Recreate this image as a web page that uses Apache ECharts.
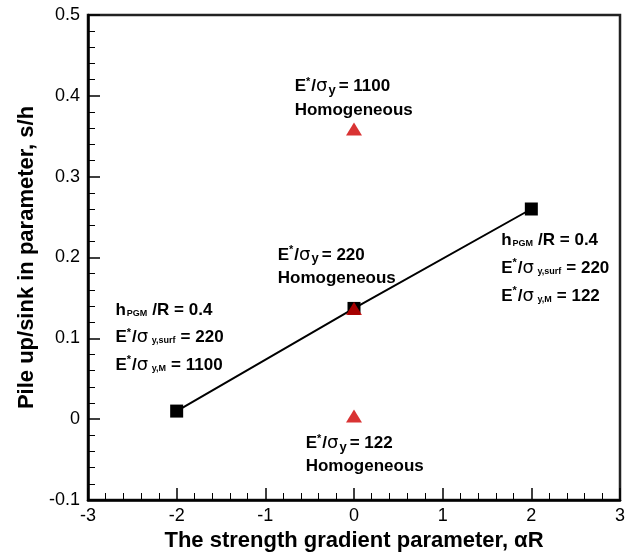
<!DOCTYPE html>
<html>
<head>
<meta charset="utf-8">
<script src="https://cdn.jsdelivr.net/npm/echarts@6/dist/echarts.min.js"></script>
<style>
  html, body { margin: 0; padding: 0; background: #fff; }
  #chart { width: 635px; height: 552px; }
</style>
</head>
<body>
<div id="chart"></div>
<script>
// Graded specimens: pile-up/sink-in vs strength gradient parameter
const gradedAlphaR = [-2, 0, 2];
const gradedSH = [0.01, 0.137, 0.26];

// Homogeneous reference cases (all at alphaR = 0)
const homogAlphaR = [0, 0, 0];
const homogSH = [0.359, 0.137, 0.004];

const xTicks = [-3, -2, -1, 0, 1, 2, 3];
const yTicks = [-0.1, 0, 0.1, 0.2, 0.3, 0.4, 0.5];

const FONT = '"Liberation Sans", Arial, Helvetica, sans-serif';

const chart = echarts.init(document.getElementById('chart'), null, { renderer: 'canvas' });

const richStyles = {
  b: { fontFamily: FONT, fontWeight: 'bold', fontSize: 17, color: '#000' },
  sup: { fontFamily: FONT, fontWeight: 'bold', fontSize: 11, color: '#000', padding: [0, 1, 9, 0] },
  sg: { fontFamily: '"DejaVu Sans", ' + FONT, fontSize: 18, color: '#000' },
  sub: { fontFamily: FONT, fontWeight: 'bold', fontSize: 13, color: '#000', padding: [8, 3, 0, 1] },
  subs: { fontFamily: FONT, fontWeight: 'bold', fontSize: 9, color: '#000', padding: [7, 5, 0, 1] }
};

// Annotation blocks: text lines, anchored in data space (alphaR, s/h)
const notes = [
  { at: [-0.669, 0.4115], gap: 24, lines: ['{b|E}{sup|*}{b|/}{sg|σ}{sub|y}{b|= 1100}', '{b|Homogeneous}'] },
  { at: [-0.86, 0.2032], gap: 23, lines: ['{b|E}{sup|*}{b|/}{sg|σ}{sub|y}{b|= 220}', '{b|Homogeneous}'] },
  { at: [-0.545, -0.0295], gap: 23, lines: ['{b|E}{sup|*}{b|/}{sg|σ}{sub|y}{b|= 122}', '{b|Homogeneous}'] },
  { at: [-2.69, 0.1352], gap: 27.5, lines: ['{b|h}{subs|PGM}{b|/R = 0.4}', '{b|E}{sup|*}{b|/}{sg|σ}{subs| y,surf}{b|= 220}', '{b|E}{sup|*}{b|/}{sg|σ}{subs| y,M}{b|= 1100}'] },
  { at: [1.66, 0.2218], gap: 28, lines: ['{b|h}{subs|PGM}{b|/R = 0.4}', '{b|E}{sup|*}{b|/}{sg|σ}{subs| y,surf}{b|= 220}', '{b|E}{sup|*}{b|/}{sg|σ}{subs| y,M}{b|= 122}'] }
];

const axisCommon = {
  axisLine: { show: true, onZero: false, lineStyle: { color: '#000', width: 2.5 } },
  axisTick: { show: true, inside: true, length: 12, lineStyle: { color: '#000', width: 1.5 } },
  minorTick: { show: true, splitNumber: 5, length: 7, lineStyle: { color: '#000', width: 1 } },
  splitLine: { show: false },
  minorSplitLine: { show: false },
  axisLabel: { color: '#000', fontFamily: FONT, fontSize: 18 },
  nameTextStyle: { color: '#000', fontFamily: FONT, fontSize: 22, fontWeight: 'bold' }
};

chart.setOption({
  animation: false,
  backgroundColor: '#fff',
  grid: {
    left: 88, right: 15, top: 15, bottom: 52,
    outerBoundsMode: 'none', containLabel: false,
    show: true, borderColor: '#222', borderWidth: 2.5, backgroundColor: 'transparent'
  },
  xAxis: Object.assign({}, axisCommon, {
    type: 'value', min: xTicks[0], max: xTicks[xTicks.length - 1], interval: 1,
    name: 'The strength gradient parameter, αR', nameLocation: 'middle', nameGap: 30,
    axisLabel: Object.assign({}, axisCommon.axisLabel, { margin: 7 })
  }),
  yAxis: Object.assign({}, axisCommon, {
    type: 'value', min: yTicks[0], max: yTicks[yTicks.length - 1], interval: 0.1,
    name: 'Pile up/sink in parameter, s/h', nameLocation: 'middle', nameGap: 49,
    axisLabel: Object.assign({}, axisCommon.axisLabel, {
      margin: 8,
      formatter: v => (Math.abs(v) < 1e-9 ? '0' : (+v.toFixed(1)).toString())
    })
  }),
  series: [
    {
      type: 'line',
      data: gradedAlphaR.map((x, i) => [x, gradedSH[i]]),
      symbol: 'rect', symbolSize: 13,
      itemStyle: { color: '#000' },
      lineStyle: { color: '#000', width: 2 },
      z: 3
    },
    {
      type: 'scatter',
      data: homogAlphaR.map((x, i) => [x, homogSH[i]]),
      symbol: 'triangle', symbolSize: [16, 13],
      itemStyle: { color: '#d00000' },
      z: 4
    }
  ]
});

// Place annotation text blocks from their data-space anchors
const graphics = [];
notes.forEach(n => {
  const p = chart.convertToPixel({ gridIndex: 0 }, n.at);
  n.lines.forEach((ln, k) => {
    graphics.push({
      type: 'text', x: p[0], y: p[1] + k * n.gap,
      style: { text: ln, rich: richStyles, align: 'left', verticalAlign: 'middle', fill: '#000' },
      z: 10
    });
  });
});
chart.setOption({ graphic: graphics });
</script>
</body>
</html>
